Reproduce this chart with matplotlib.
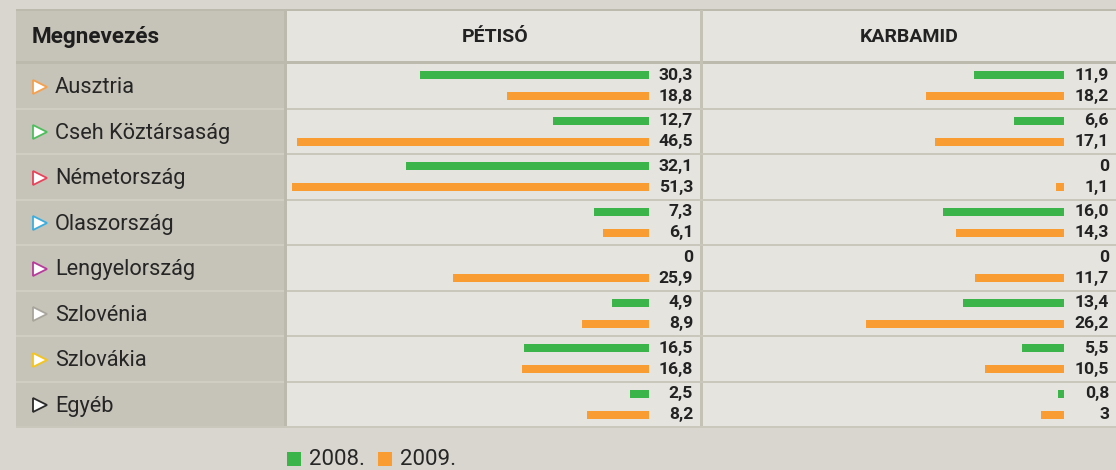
import matplotlib
matplotlib.use("Agg")
import matplotlib.pyplot as plt
from matplotlib.patches import Rectangle
from matplotlib.transforms import blended_transform_factory

plt.rcParams['font.family'] = ['Roboto', 'DejaVu Sans']

# ---------------- data ----------------
countries = ["Ausztria", "Cseh Köztársaság", "Németország", "Olaszország",
             "Lengyelország", "Szlovénia", "Szlovákia", "Egyéb"]
marker_colors = ["#f5a04a", "#4cbf5a", "#e8435a", "#3aaee0",
                 "#b83a9c", "#a8a59c", "#f5c518", "#2a2a2a"]
columns = ["PÉTISÓ", "KARBAMID"]
years = ["2008.", "2009."]
series_colors = ["#3bb54a", "#f99d33"]

petiso_2008 = [30.3, 12.7, 32.1, 7.3, 0, 4.9, 16.5, 2.5]
petiso_2009 = [18.8, 46.5, 51.3, 6.1, 25.9, 8.9, 16.8, 8.2]
karbamid_2008 = [11.9, 6.6, 0, 16.0, 0, 13.4, 5.5, 0.8]
karbamid_2009 = [18.2, 17.1, 1.1, 14.3, 11.7, 26.2, 10.5, 3]

petiso_2008_labels = ["30,3", "12,7", "32,1", "7,3", "0", "4,9", "16,5", "2,5"]
petiso_2009_labels = ["18,8", "46,5", "51,3", "6,1", "25,9", "8,9", "16,8", "8,2"]
karbamid_2008_labels = ["11,9", "6,6", "0", "16,0", "0", "13,4", "5,5", "0,8"]
karbamid_2009_labels = ["18,2", "17,1", "1,1", "14,3", "11,7", "26,2", "10,5", "3"]

# ---------------- layout ----------------
W, H = 1116, 470
fig = plt.figure(figsize=(W / 100, H / 100), dpi=100)
fig.patch.set_facecolor("#d8d6cf")

bg = fig.add_axes([0, 0, 1, 1])
bg.set_xlim(0, W)
bg.set_ylim(H, 0)
bg.axis("off")

LEFT = "#c6c3b8"
CELL = "#e5e4df"
SEP = "#c9c6bb"
DARK = "#bcb9ad"

top, head_bot, bottom = 10, 63, 427
left_x, left_r, mid_l, mid_r = 16, 286, 701, 703
n = len(countries)
row_h = (bottom - head_bot) / n

# cells
bg.add_patch(Rectangle((left_x, top), left_r - left_x, bottom - top, color=LEFT, lw=0))
bg.add_patch(Rectangle((left_r, top), mid_l - left_r, bottom - top, color=CELL, lw=0))
bg.add_patch(Rectangle((mid_r, top), W - mid_r, bottom - top, color=CELL, lw=0))
# borders
bg.add_patch(Rectangle((left_x, top - 1), W - left_x, 2, color=DARK, lw=0))
bg.add_patch(Rectangle((left_x, head_bot - 2), W - left_x, 3, color=DARK, lw=0))
bg.add_patch(Rectangle((left_r - 2, top), 3, bottom - top, color=DARK, lw=0))
bg.add_patch(Rectangle((mid_l - 1, top), mid_r - mid_l + 1, bottom - top, color="#c4c1b5", lw=0))
for i in range(1, n):
    y = head_bot + i * row_h
    bg.add_patch(Rectangle((left_x, y - 1), left_r - 2 - left_x, 2, color="#d0cdc3", lw=0))
    bg.add_patch(Rectangle((left_r + 1, y - 1), W - left_r - 1, 2, color=SEP, lw=0))
bg.add_patch(Rectangle((left_x, bottom - 1), W - left_x, 2, color="#cac7bc", lw=0))

# header texts
bg.text(32, 37, "Megnevezés", fontsize=16.2, fontweight="bold", color="#1e1e1e",
        ha="left", va="center")
bg.text((left_r + mid_l) / 2 + 2, 37, columns[0], fontsize=14, fontweight="bold",
        color="#222222", ha="center", va="center")
bg.text((mid_r + W) / 2, 37, columns[1], fontsize=14, fontweight="bold",
        color="#222222", ha="center", va="center")

# country labels with triangle markers
for i, (c, mc) in enumerate(zip(countries, marker_colors)):
    yc = head_bot + (i + 0.5) * row_h
    bg.plot([39.5], [yc + 1], marker=">", markersize=9.5, markerfacecolor="white",
            markeredgecolor=mc, markeredgewidth=1.3, linestyle="none")
    bg.text(55, yc + 2, c, fontsize=15.7, color="#262626", ha="left", va="center")

# legend
for j, (yr, col) in enumerate(zip(years, series_colors)):
    x0 = 287 + j * 91
    bg.add_patch(Rectangle((x0, 452), 14, 14, color=col, lw=0))
    bg.text(x0 + 22, 465, yr, fontsize=16, color="#262626", ha="left", va="baseline")

# ---------------- bar panels ----------------
k = 7.57  # px per unit
panels = [
    (292, 700, 649, petiso_2008, petiso_2009, petiso_2008_labels, petiso_2009_labels),
    (705, 1116, 1064, karbamid_2008, karbamid_2009, karbamid_2008_labels, karbamid_2009_labels),
]
for (x0, x1, zero, s08, s09, l08, l09) in panels:
    ax = fig.add_axes([x0 / W, (H - bottom) / H, (x1 - x0) / W, (bottom - head_bot) / H])
    ax.set_xlim((zero - x0) / k, -(x1 - zero) / k)
    ax.set_ylim(n, 0)
    ax.axis("off")
    ax.patch.set_alpha(0)
    off = 10.5 / row_h
    bh = 8 / row_h
    ys = [i + 0.5 for i in range(n)]
    ax.barh([y - off for y in ys], s08, height=bh, left=0, color=series_colors[0],
            align="center")
    ax.barh([y + off for y in ys], s09, height=bh, left=0, color=series_colors[1],
            align="center")
    tr = blended_transform_factory(ax.transAxes, ax.transData)
    lab_x = 1 - 7 / (x1 - x0)
    for y, a, b in zip(ys, l08, l09):
        ax.text(lab_x, y - off, a, transform=tr, ha="right", va="center",
                fontsize=12.6, fontweight="bold", color="#222222")
        ax.text(lab_x, y + off, b, transform=tr, ha="right", va="center",
                fontsize=12.6, fontweight="bold", color="#222222")

fig.savefig("out.png", dpi=100, facecolor=fig.get_facecolor())
